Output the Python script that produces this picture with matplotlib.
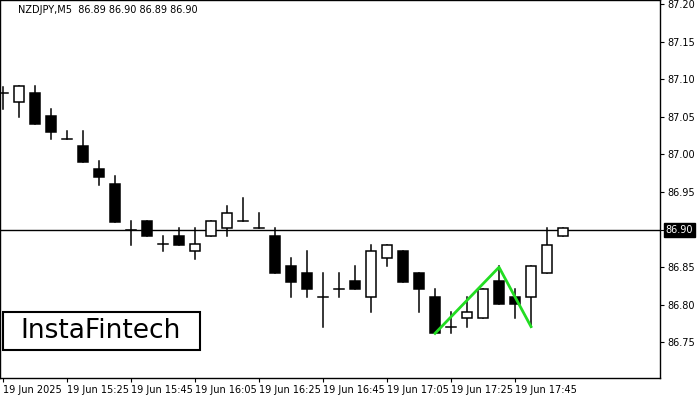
import matplotlib
matplotlib.use("Agg")
import matplotlib.pyplot as plt
from matplotlib.patches import Rectangle

opens  = [87.081,87.070,87.081,87.051,87.021,87.011,86.981,86.961,86.900,86.911,86.881,86.891,86.871,86.891,86.902,86.911,86.902,
          86.891,86.852,86.842,86.811,86.821,86.832,86.811,86.862,86.872,86.842,86.811,86.771,86.782,86.782,86.832,86.811,86.811,86.842,86.891]
closes = [87.081,87.091,87.041,87.030,87.021,86.990,86.970,86.910,86.900,86.891,86.881,86.879,86.881,86.911,86.922,86.911,86.902,
          86.842,86.831,86.821,86.811,86.821,86.821,86.872,86.880,86.831,86.821,86.762,86.771,86.791,86.821,86.801,86.801,86.851,86.880,86.902]
highs  = [87.090,87.091,87.091,87.061,87.031,87.031,86.991,86.971,86.911,86.911,86.891,86.902,86.902,86.911,86.931,86.942,86.922,
          86.902,86.862,86.872,86.842,86.842,86.852,86.880,86.880,86.872,86.842,86.821,86.791,86.811,86.821,86.851,86.821,86.851,86.902,86.902]
lows   = [87.060,87.050,87.041,87.020,87.021,86.990,86.959,86.910,86.879,86.891,86.871,86.879,86.861,86.891,86.891,86.911,86.902,
          86.842,86.811,86.811,86.771,86.811,86.821,86.791,86.851,86.831,86.791,86.762,86.762,86.771,86.782,86.801,86.782,86.771,86.842,86.891]
pattern_idx = [27, 31, 33]
pattern_val = [86.762, 86.850, 86.771]
level = 86.90
ytick_vals = [86.75,86.80,86.85,86.90,86.95,87.00,87.05,87.10,87.15,87.20]
xtick_idx = [0,4,8,12,16,20,24,28,32]
xtick_labels = ["19 Jun 2025","19 Jun 15:25","19 Jun 15:45","19 Jun 16:05","19 Jun 16:25",
                "19 Jun 16:45","19 Jun 17:05","19 Jun 17:25","19 Jun 17:45"]

fig = plt.figure(figsize=(7,4), dpi=100)
ax = fig.add_axes([0, 22/400, 660/700, 378/400])
w = 0.62
for i,(o,c,h,l) in enumerate(zip(opens,closes,highs,lows)):
    ax.plot([i,i],[l,h],color='black',lw=1.1,zorder=2)
    if abs(c-o) < 0.002:
        ax.plot([i-w/2,i+w/2],[o,o],color='black',lw=1.1,zorder=3)
    else:
        ax.add_patch(Rectangle((i-w/2,min(o,c)),w,abs(c-o),facecolor='black' if c<o else 'white',
                               edgecolor='black',lw=1.1,zorder=3))
ax.axhline(level,color='black',lw=1,zorder=1)
ax.plot(pattern_idx,pattern_val,color='#22dd22',lw=2,zorder=4)
ax.set_xlim(-3/16, 41.06)
ax.set_ylim(86.7027, 87.2053)
ax.yaxis.tick_right()
ax.set_yticks(ytick_vals)
ax.set_yticklabels([f"{v:.2f}" for v in ytick_vals], fontsize=7)
ax.set_xticks(xtick_idx)
ax.set_xticklabels(xtick_labels, fontsize=7, ha='left')
ax.tick_params(length=3, pad=2)
for s in ax.spines.values(): s.set_linewidth(1)
ax.text(level, level, "", transform=ax.transData)
ax.annotate("86.90", xy=(1.0, level), xycoords=('axes fraction','data'), xytext=(4,0),
            textcoords='offset points', ha='left', va='center', fontsize=7, color='white',
            bbox=dict(boxstyle='square,pad=0.2', fc='black', ec='black'))
fig.text(18/700, 1-10/400, "NZDJPY,M5  86.89 86.90 86.89 86.90", fontsize=7, va='center')
fig.patches.append(Rectangle((3/700, 50/400), 197/700, 38/400, transform=fig.transFigure,
                             fill=False, ec='black', lw=1.5))
fig.text(101/700, 69/400, "InstaFintech", fontsize=19, ha='center', va='center')
fig.savefig("out.png", dpi=100)
